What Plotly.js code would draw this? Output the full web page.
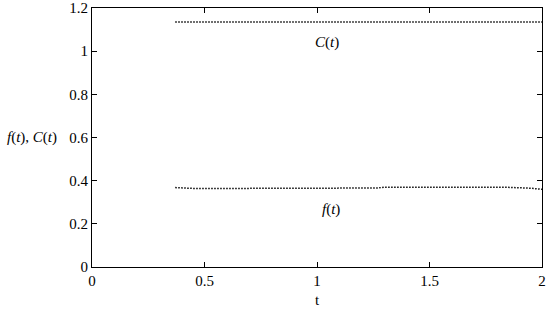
<!DOCTYPE html>
<html>
<head>
<meta charset="utf-8">
<script src="https://cdn.plot.ly/plotly-3.0.1.min.js"></script>
<style>
  body { margin: 0; background: #fff; }
  #plot { width: 550px; height: 311px; }
</style>
</head>
<body>
<div id="plot"></div>
<script>
// values
var tF = [0.37, 0.45, 0.6, 0.8, 0.85, 1.0, 1.27, 1.3, 1.5, 1.7, 1.85, 1.95, 2.0];
var fVals = [0.368, 0.364, 0.364, 0.364, 0.366, 0.366, 0.366, 0.370, 0.370, 0.370, 0.369, 0.365, 0.360];
var tC = [0.37, 0.8, 1.2, 1.6, 2.0];
var cVals = [1.135, 1.135, 1.135, 1.135, 1.135];

var xTicks = [0, 0.5, 1, 1.5, 2];
var yTicks = [0, 0.2, 0.4, 0.6, 0.8, 1, 1.2];

var serif = 'Liberation Serif';

var fTrace = {
  x: tF, y: fVals, type: 'scatter', mode: 'lines', name: 'f(t)',
  line: {color: '#000', width: 1.5, dash: '1.5px,1.5px'}
};
var cTrace = {
  x: tC, y: cVals, type: 'scatter', mode: 'lines', name: 'C(t)',
  line: {color: '#000', width: 1.5, dash: '1.5px,1.5px'}
};

var axisStyle = {
  showgrid: false, zeroline: false,
  showline: true, linecolor: '#000', linewidth: 1,
  mirror: 'allticks', ticks: 'inside', ticklen: 5, tickcolor: '#000',
  tickfont: {family: serif, size: 15, color: '#000'}
};

var layout = {
  width: 550, height: 311,
  margin: {l: 92, r: 8, t: 8, b: 44},
  paper_bgcolor: '#fff', plot_bgcolor: '#fff',
  showlegend: false,
  font: {family: serif, size: 15, color: '#000'},
  xaxis: Object.assign({}, axisStyle, {
    range: [0, 2], tickvals: xTicks, ticktext: xTicks.map(String),
    title: {text: 't', font: {family: serif, size: 15}, standoff: 6}
  }),
  yaxis: Object.assign({}, axisStyle, {
    range: [0, 1.2], tickvals: yTicks, ticktext: yTicks.map(String)
  }),
  annotations: [
    {xref: 'paper', yref: 'y', x: -0.074, y: 0.6, xanchor: 'right', yanchor: 'middle',
     text: '<i>f</i>(<i>t</i>), <i>C</i>(<i>t</i>)', showarrow: false,
     font: {family: serif, size: 15}},
    {x: 1.045, y: 1.04, text: '<i>C</i>(<i>t</i>)', showarrow: false,
     font: {family: serif, size: 15}},
    {x: 1.06, y: 0.265, text: '<i>f</i>(<i>t</i>)', showarrow: false,
     font: {family: serif, size: 15}}
  ]
};

Plotly.newPlot('plot', [fTrace, cTrace], layout, {displayModeBar: false, staticPlot: true});
</script>
</body>
</html>
